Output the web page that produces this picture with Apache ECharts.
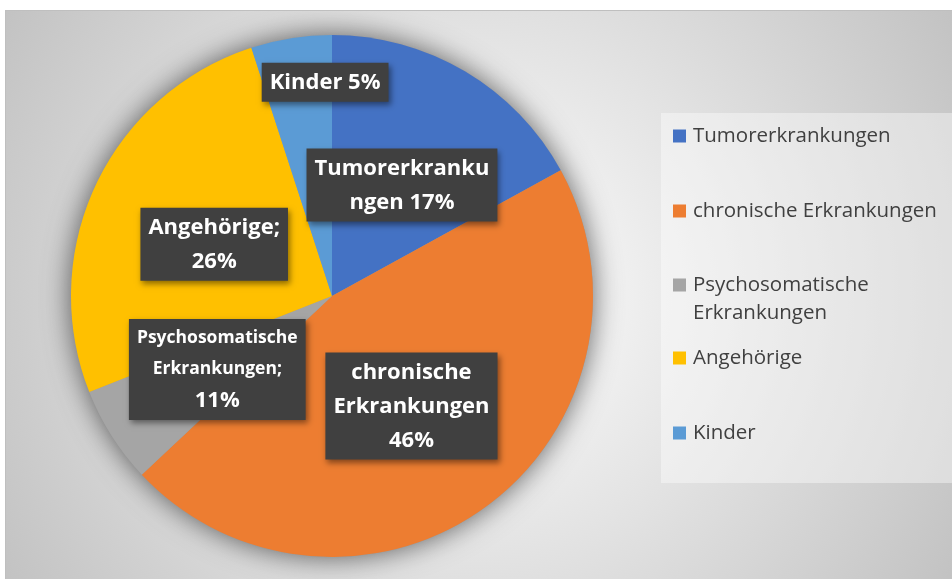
<!DOCTYPE html>
<html>
<head>
<meta charset="utf-8">
<script src="https://cdn.jsdelivr.net/npm/echarts@6/dist/echarts.min.js"></script>
<style>
html, body { margin: 0; background: #fff; }
#chart {
  position: absolute;
  left: 5px;
  top: 10px;
  width: 946px;
  height: 568px;
  border-top: 1px solid #bfbfbf;
  border-left: 1px solid #bfbfbf;
}
</style>
</head>
<body>
<div id="chart"></div>
<script>
// slices (clockwise from 12 o'clock)
const categories = ['Tumorerkrankungen', 'chronische Erkrankungen', 'Psychosomatische Erkrankungen', 'Angehörige', 'Kinder']
const shares = [17, 46, 6, 26, 5]
// data labels as printed in the picture (with Excel's line wrapping)
const labelTexts = [
  'Tumorerkranku\nngen 17%',
  'chronische\nErkrankungen\n46%',
  '{s|Psychosomatische}\n{s|Erkrankungen;}\n11%',
  'Angehörige;\n26%',
  'Kinder 5%'
]
const colors = ['#4472C4', '#ED7D31', '#A5A5A5', '#FFC000', '#5B9BD5']

// label nudges relative to the default "inside" spot
const labelShift = [[2, 4], [1, 2], [-2, 2], [3, 5], [14, -82]]

const FONT = '"Open Sans", sans-serif'
const center = [326, 285]
const radius = 261

const chart = echarts.init(document.getElementById('chart'))

const total = shares.reduce((a, b) => a + b, 0)

const legendBase = {
  orient: 'vertical',
  left: 667,
  padding: 0,
  itemGap: 47,
  itemWidth: 13,
  itemHeight: 13,
  icon: 'rect',
  selectedMode: false,
  textStyle: { fontFamily: FONT, fontSize: 20.5, lineHeight: 28, color: '#404040', padding: [0, 0, 0, 2] }
}

chart.setOption({
  animation: false,
  color: colors,
  graphic: [
    {
      type: 'rect',
      silent: true,
      z: -100,
      shape: { x: 0, y: 0, width: 946, height: 568 },
      style: {
        fill: {
          type: 'radial', x: 0.5, y: 0.5, r: 0.98,
          colorStops: [
            { offset: 0, color: '#ffffff' },
            { offset: 0.45, color: '#e4e4e4' },
            { offset: 1, color: '#c2c2c2' }
          ]
        }
      }
    },
    {
      type: 'rect',
      silent: true,
      z: -50,
      shape: { x: 655, y: 102, width: 291, height: 370 },
      style: { fill: 'rgba(255,255,255,0.4)' }
    }
  ],
  legend: [
    Object.assign({}, legendBase, { top: 111, data: categories.slice(0, 2) }),
    Object.assign({}, legendBase, {
      top: 232,
      data: [categories[2]],
      formatter: () => '\nPsychosomatische\nErkrankungen'
    }),
    Object.assign({}, legendBase, { top: 333, data: categories.slice(3) })
  ],
  series: [
    {
      // soft shadow under the whole pie
      type: 'pie',
      silent: true,
      z: 1,
      center: center,
      radius: radius,
      label: { show: false },
      labelLine: { show: false },
      emphasis: { disabled: true },
      data: [{
        value: total,
        name: '',
        itemStyle: { color: '#9a9a9a', shadowBlur: 28, shadowColor: 'rgba(0,0,0,0.6)' }
      }]
    },
    {
      type: 'pie',
      z: 2,
      center: center,
      radius: radius,
      startAngle: 90,
      clockwise: true,
      emphasis: { disabled: true },
      labelLine: { show: false },
      label: {
        show: true,
        position: 'inside',
        formatter: (p) => labelTexts[p.dataIndex],
        fontFamily: FONT,
        fontWeight: 'bold',
        fontSize: 22,
        lineHeight: 34,
        color: '#ffffff',
        align: 'center',
        backgroundColor: '#404040',
        padding: [3, 8, 2, 8],
        shadowColor: 'rgba(0,0,0,0.45)',
        shadowBlur: 6,
        shadowOffsetX: 2,
        shadowOffsetY: 3,
        rich: {
          s: { fontFamily: FONT, fontWeight: 'bold', fontSize: 17.5, lineHeight: 31, color: '#ffffff' }
        }
      },
      labelLayout: (p) => {
        const s = labelShift[p.dataIndex]
        return { dx: s[0], dy: s[1] }
      },
      data: categories.map((name, i) => ({ name: name, value: shares[i] }))
    }
  ]
})
</script>
</body>
</html>
